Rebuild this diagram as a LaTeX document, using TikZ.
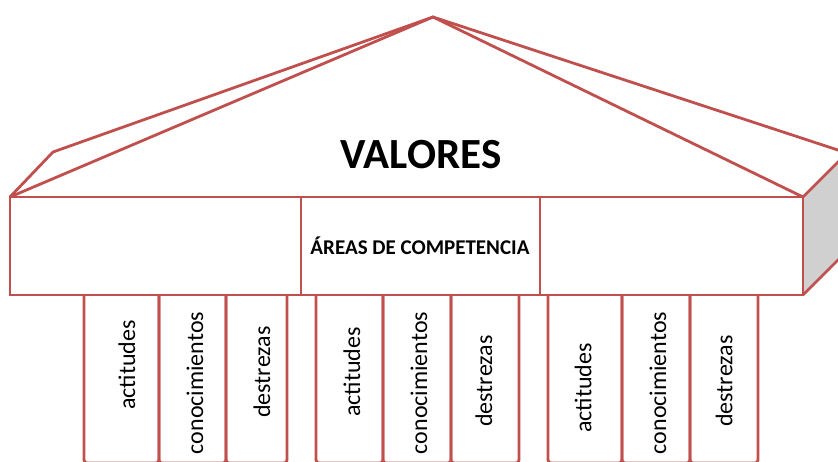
\documentclass[tikz,border=0pt]{standalone}
\usepackage{fontspec}
\setmainfont{Carlito}
\definecolor{edge}{HTML}{C0504D}
\definecolor{side}{HTML}{D0D0D0}
\tikzset{
  ln/.style={draw=edge, line width=2.8pt, line join=miter},
  colbox/.style={draw=edge, line width=2.8pt, rounded corners=3pt},
  coltext/.style={rotate=90, font=\fontsize{24}{26}\selectfont, inner sep=0pt},
}
\begin{document}
\begin{tikzpicture}[x=1pt,y=-1pt]
\useasboundingbox (0,0) rectangle (838,461);
\clip (0,0) rectangle (838,461);
% roof
\coordinate (apex) at (433,17);
\coordinate (lc) at (53,152);
\coordinate (rc) at (847,153);
\coordinate (bl) at (10,197);
\coordinate (br) at (803,197);
\coordinate (bbl) at (10,295);
\coordinate (bbr) at (803,295);
% gray side
\fill[side] (br) -- (rc) -- (847,251) -- (bbr) -- cycle;
\draw[ln] (br) -- (rc);
\draw[ln] (bbr) -- (847,251);
\draw[ln] (bl) -- (lc) -- (apex) -- (rc);
\draw[ln] (bl) -- (apex) -- (br);
% columns
\foreach \a/\b in {84/159,159/226,226/287,316/383,383/451,451/519,548/622,622/690,690/758}{
  \draw[colbox] (\a,280) rectangle (\b,463);
}
% main beam
\fill[white] (bl) rectangle (bbr);
\draw[ln] (bl) rectangle (bbr);
\draw[ln] (301,197) -- (301,295);
\draw[ln] (540,197) -- (540,295);
% texts
\node[font=\bfseries\fontsize{43}{46}\selectfont] (valores) at (421,155) {VALORES};
\node[font=\bfseries\fontsize{21}{23}\selectfont] (areas) at (420,246) {ÁREAS DE COMPETENCIA};
\node[coltext] (a1) at (127,365) {actitudes};
\node[coltext] (c1) at (195,383) {conocimientos};
\node[coltext] (d1) at (262,372) {destrezas};
\node[coltext] (a2) at (352,372) {actitudes};
\node[coltext] (c2) at (419,383) {conocimientos};
\node[coltext] (d2) at (484,381) {destrezas};
\node[coltext] (a3) at (583,388) {actitudes};
\node[coltext] (c3) at (658,383) {conocimientos};
\node[coltext] (d3) at (724,381) {destrezas};
\end{tikzpicture}
\end{document}
